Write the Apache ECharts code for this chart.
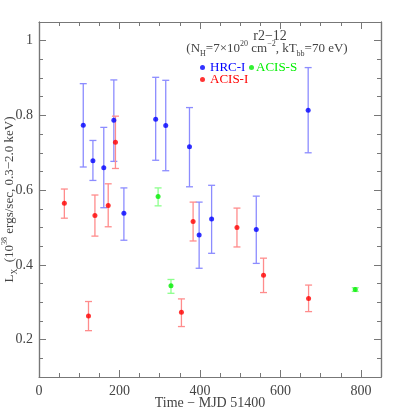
<!DOCTYPE html>
<html>
<head>
<meta charset="utf-8">
<script src="https://cdn.jsdelivr.net/npm/echarts@6/dist/echarts.min.js"></script>
<style>html,body{margin:0;padding:0;background:#fff}#c{width:415px;height:415px}</style>
</head>
<body>
<div id="c"></div>
<script>
// HRC-I
var hrcX  = [110, 134, 161, 186, 211, 290, 315, 374, 398, 429, 540, 669];
var hrcY  = [0.774, 0.679, 0.660, 0.787, 0.538, 0.790, 0.773, 0.716, 0.480, 0.523, 0.495, 0.814];
var hrcLo = [0.662, 0.626, 0.553, 0.677, 0.466, 0.680, 0.652, 0.609, 0.391, 0.431, 0.404, 0.700];
var hrcHi = [0.885, 0.733, 0.768, 0.895, 0.606, 0.902, 0.894, 0.821, 0.568, 0.613, 0.584, 0.928];
// ACIS-I
var acisIX  = [63, 123, 139, 172, 190, 354, 383, 492, 558, 670];
var acisIY  = [0.565, 0.263, 0.532, 0.559, 0.728, 0.273, 0.516, 0.500, 0.372, 0.310];
var acisILo = [0.525, 0.224, 0.477, 0.502, 0.658, 0.235, 0.464, 0.448, 0.326, 0.275];
var acisIHi = [0.603, 0.302, 0.587, 0.617, 0.798, 0.309, 0.568, 0.552, 0.418, 0.346];
// ACIS-S
var acisSX  = [296, 328, 786];
var acisSY  = [0.583, 0.344, 0.334];
var acisSLo = [0.558, 0.324, 0.329];
var acisSHi = [0.606, 0.361, 0.339];

var yMajorTicks = [0.2, 0.4, 0.6, 0.8, 1.0];

var FONT = 'Liberation Serif';
var AXC = '#777';
var TXT = '#444';

function pts(xs, ys) { return xs.map(function (x, i) { return [x, ys[i]]; }); }
function errs(xs, lo, hi) { return xs.map(function (x, i) { return [x, lo[i], hi[i]]; }); }

function errSeries(name, data, color) {
  return {
    name: name + ' err', type: 'custom', xAxisIndex: 0, yAxisIndex: 0, silent: true, z: 2,
    renderItem: function (params, api) {
      var x = api.value(0);
      var lo = api.coord([x, api.value(1)]);
      var hi = api.coord([x, api.value(2)]);
      var w = 3.5;
      var st = { stroke: color, lineWidth: 1.3 };
      return { type: 'group', children: [
        { type: 'line', shape: { x1: lo[0], y1: lo[1], x2: hi[0], y2: hi[1] }, style: st },
        { type: 'line', shape: { x1: lo[0] - w, y1: lo[1], x2: lo[0] + w, y2: lo[1] }, style: st },
        { type: 'line', shape: { x1: hi[0] - w, y1: hi[1], x2: hi[0] + w, y2: hi[1] }, style: st }
      ]};
    },
    encode: { x: 0, y: [1, 2] },
    data: data
  };
}

function ptSeries(name, data, color) {
  return { name: name, type: 'scatter', xAxisIndex: 0, yAxisIndex: 0, symbol: 'circle', symbolSize: 5,
    itemStyle: { color: color }, z: 3, data: data };
}

var chart = echarts.init(document.getElementById('c'), null, { renderer: 'canvas' });
var grid = { left: 39, right: 34, top: 22, bottom: 38, containLabel: false, outerBoundsMode: 'none' };

function yAx(pos, major, labels) {
  var a = { type: 'value', position: pos, min: 0.1, max: 1.05, gridIndex: 0,
    splitLine: { show: false },
    axisLine: { show: true, onZero: false, lineStyle: { color: AXC, width: 1.2 } },
    axisTick: { show: true, inside: true, length: major ? 7 : 4, lineStyle: { color: AXC } },
    axisLabel: { show: false }
  };
  if (major) {
    a.axisTick.customValues = yMajorTicks;
    a.axisLabel = { show: labels, customValues: yMajorTicks, color: TXT, fontFamily: FONT, fontSize: 14, margin: 6,
      formatter: function (v) { return Math.abs(v - 1) < 1e-9 ? '1' : v.toFixed(1); } };
  } else {
    a.interval = 0.05;
  }
  return a;
}

function xAx(pos, labels) {
  return { type: 'value', position: pos, min: 0, max: 850, interval: 200, gridIndex: 0,
    splitLine: { show: false },
    axisLine: { show: true, onZero: false, lineStyle: { color: AXC, width: 1.2 } },
    axisTick: { show: true, inside: true, length: 7, lineStyle: { color: AXC } },
    minorTick: { show: true, splitNumber: 4, length: 4, lineStyle: { color: AXC } },
    axisLabel: { show: labels, color: TXT, fontFamily: FONT, fontSize: 14, margin: 7 }
  };
}

var richSet = {
  m: { fontFamily: FONT, fontSize: 13, color: TXT, lineHeight: 18, verticalAlign: 'middle' },
  p: { fontFamily: FONT, fontSize: 8, color: TXT, lineHeight: 9, verticalAlign: 'top' },
  s: { fontFamily: FONT, fontSize: 8, color: TXT, lineHeight: 9, verticalAlign: 'bottom' }
};

var xBottom = xAx('bottom', true);
xBottom.name = 'Time \u2212 MJD 51400';
xBottom.nameLocation = 'middle';
xBottom.nameGap = 19;
xBottom.nameMoveOverlap = false;
xBottom.nameTextStyle = { color: TXT, fontFamily: FONT, fontSize: 14 };

var yLeft = yAx('left', true, true);
yLeft.name = '{m|L}{s|X}{m|  (10}{p|38}{m| ergs/sec, 0.3\u22122.0 keV)}';
yLeft.nameLocation = 'middle';
yLeft.nameGap = 20;
yLeft.nameMoveOverlap = false;
yLeft.nameRotate = 90;
yLeft.nameTextStyle = { color: TXT, fontFamily: FONT, fontSize: 13, rich: richSet };

var legText = { fontFamily: FONT, fontSize: 13 };

chart.setOption({
  animation: false,
  backgroundColor: '#fff',
  grid: grid,
  title: [
    { text: 'r2\u221212', left: 270, top: 29, padding: 0, textAlign: 'center',
      textStyle: { color: TXT, fontFamily: FONT, fontSize: 14, fontWeight: 'normal' } },
    { text: '{m|(N}{s|H}{m|=7\u00d710}{p|20}{m| cm}{p|\u22122}{m|, kT}{s|bb}{m|=70 eV)}', left: 267, top: 40, padding: 0, textAlign: 'center',
      textStyle: { color: TXT, fontFamily: FONT, fontSize: 13, fontWeight: 'normal', rich: richSet } }
  ],
  legend: [
    { data: [{ name: 'HRC-I', textStyle: { color: '#0000ff' } }], left: 200, top: 61, icon: 'circle',
      itemWidth: 5, itemHeight: 5, itemGap: 0, textStyle: legText, padding: 0 },
    { data: [{ name: 'ACIS-S', textStyle: { color: '#00ee00' } }], left: 249, top: 61, icon: 'circle',
      itemWidth: 5, itemHeight: 5, itemGap: 0, textStyle: Object.assign({ padding: [0, 0, 0, -3] }, legText), padding: 0 },
    { data: [{ name: 'ACIS-I', textStyle: { color: '#ff0000' } }], left: 200, top: 73, icon: 'circle',
      itemWidth: 5, itemHeight: 5, itemGap: 0, textStyle: legText, padding: 0 }
  ],
  xAxis: [xBottom, xAx('top', false)],
  yAxis: [yLeft, yAx('left', false, false), yAx('right', true, false), yAx('right', false, false)],
  series: [
    errSeries('HRC-I', errs(hrcX, hrcLo, hrcHi), '#8c8cff'),
    errSeries('ACIS-I', errs(acisIX, acisILo, acisIHi), '#ff8c8c'),
    errSeries('ACIS-S', errs(acisSX, acisSLo, acisSHi), '#8cff8c'),
    ptSeries('HRC-I', pts(hrcX, hrcY), '#0000ff'),
    ptSeries('ACIS-I', pts(acisIX, acisIY), '#ff0000'),
    ptSeries('ACIS-S', pts(acisSX, acisSY), '#00ee00')
  ]
});
</script>
</body>
</html>
